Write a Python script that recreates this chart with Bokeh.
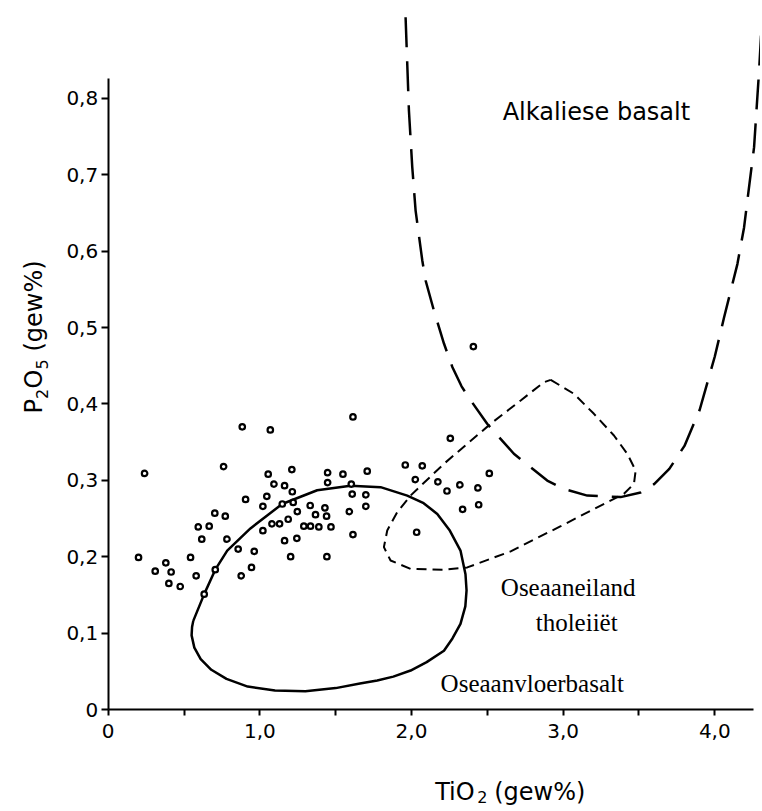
import math
from bokeh.plotting import figure
from bokeh.models import Range1d, FixedTicker
from bokeh.embed import file_html
from bokeh.resources import INLINE
from bokeh.core.properties import value

# ---- data: individual analyses (TiO2, P2O5 in wt%) ----
tio2 = [0.20, 0.24, 0.31, 0.38, 0.415, 0.40, 0.475, 0.543, 0.58, 0.633,
        0.706, 0.594, 0.666, 0.617, 0.703, 0.772, 0.761, 0.783, 0.857, 0.877,
        0.945, 0.963, 0.884, 1.069, 0.906, 1.020, 1.046, 1.055, 1.093, 1.020,
        1.080, 1.130, 1.148, 1.163, 1.214, 1.211, 1.220, 1.187, 1.247, 1.163,
        1.244, 1.203, 1.290, 1.334, 1.332, 1.367, 1.389, 1.429, 1.440, 1.469,
        1.442, 1.447, 1.447, 1.548, 1.603, 1.609, 1.590, 1.614, 1.614, 1.699,
        1.708, 1.699, 2.408, 2.256, 1.959, 2.071, 2.025, 2.174, 2.234, 2.319,
        2.438, 2.513, 2.337, 2.443, 2.034]
p2o5 = [0.199, 0.309, 0.181, 0.192, 0.180, 0.165, 0.161, 0.199, 0.175, 0.151,
        0.183, 0.239, 0.240, 0.223, 0.257, 0.253, 0.318, 0.223, 0.210, 0.175,
        0.186, 0.207, 0.370, 0.366, 0.275, 0.266, 0.279, 0.308, 0.295, 0.234,
        0.243, 0.243, 0.269, 0.293, 0.285, 0.314, 0.271, 0.249, 0.259, 0.221,
        0.224, 0.200, 0.240, 0.240, 0.267, 0.255, 0.239, 0.264, 0.253, 0.239,
        0.200, 0.310, 0.297, 0.308, 0.295, 0.282, 0.259, 0.229, 0.383, 0.281,
        0.312, 0.266, 0.475, 0.355, 0.320, 0.319, 0.301, 0.298, 0.286, 0.294,
        0.290, 0.309, 0.262, 0.268, 0.232]

# ---- field boundaries ----
ocean_floor_x = [0.561, 0.633, 0.706, 0.785, 0.938, 1.147, 1.378, 1.598, 1.796, 1.972,
                 2.080, 2.170, 2.250, 2.323, 2.356, 2.363, 2.355, 2.323, 2.270, 2.214,
                 2.100, 1.994, 1.880, 1.774, 1.660, 1.500, 1.300, 1.100, 0.920, 0.780,
                 0.680, 0.610, 0.568, 0.550, 0.553, 0.561]
ocean_floor_y = [0.116, 0.151, 0.183, 0.208, 0.237, 0.269, 0.287, 0.293, 0.291, 0.280,
                 0.270, 0.256, 0.235, 0.208, 0.177, 0.156, 0.135, 0.112, 0.093, 0.077,
                 0.062, 0.051, 0.043, 0.038, 0.034, 0.028, 0.024, 0.025, 0.030, 0.040,
                 0.052, 0.066, 0.081, 0.097, 0.108, 0.116]

ocean_island_x = [2.918, 3.071, 3.203, 3.335, 3.423, 3.478, 3.467, 3.401, 3.335, 2.984,
                  2.654, 2.368, 2.214, 1.994, 1.862, 1.818, 1.840, 1.906, 1.994, 2.214,
                  2.522, 2.720, 2.873, 2.918]
ocean_island_y = [0.4315, 0.4132, 0.3870, 0.3586, 0.3347, 0.3128, 0.2954, 0.2823, 0.2758, 0.2400,
                  0.2070, 0.1860, 0.1828, 0.1841, 0.1950, 0.2125, 0.2343, 0.2583, 0.2801, 0.3216,
                  0.3740, 0.4045, 0.4284, 0.4315]

alkali_x = [1.961, 1.983, 2.005, 2.027, 2.071, 2.093, 2.148, 2.214, 2.270, 2.330,
            2.389, 2.499, 2.675, 2.895, 3.000, 3.159, 3.379, 3.511, 3.600, 3.700,
            3.800, 3.900, 4.000, 4.061, 4.149, 4.193, 4.226, 4.259, 4.292, 4.310]
alkali_y = [0.906, 0.784, 0.710, 0.653, 0.588, 0.5615, 0.522, 0.479, 0.448, 0.423,
            0.405, 0.374, 0.3347, 0.2997, 0.289, 0.280, 0.278, 0.284, 0.295, 0.315,
            0.345, 0.392, 0.462, 0.513, 0.583, 0.631, 0.684, 0.736, 0.836, 0.900]

# ---- field names ----
sans_names = ["Alkaliese basalt"]
sans_name_x = [2.601]
sans_name_y = [0.782]
serif_names = ["Oseaaneiland", "tholeiiët", "Oseaanvloerbasalt"]
serif_name_x = [2.589, 2.819, 2.192]
serif_name_y = [0.160, 0.114, 0.034]

# ---- ticks ----
x_ticks = [0, 1, 2, 3, 4]
x_minor_ticks = [0.5, 1.5, 2.5, 3.5]
x_tick_labels = ["0", "1,0", "2,0", "3,0", "4,0"]
y_ticks = [0, 0.1, 0.2, 0.3, 0.4, 0.5, 0.6, 0.7, 0.8]
y_tick_labels = ["0", "0,1", "0,2", "0,3", "0,4", "0,5", "0,6", "0,7", "0,8"]

# ---- canvas geometry (pixels) ----
W, H = 760, 809
X0_PX, Y0_PX = 107.7, 709.0      # where the origin sits inside the canvas
PX_PER_X, PX_PER_Y = 151.65, 764.0

x_start = -X0_PX / PX_PER_X
x_end = (W - X0_PX) / PX_PER_X
y_start = -(H - Y0_PX) / PX_PER_Y
y_end = Y0_PX / PX_PER_Y

def dx(px):   # horizontal pixel offset from origin -> data
    return px / PX_PER_X

def dy(px):   # vertical pixel offset (upwards) from origin -> data
    return px / PX_PER_Y

p = figure(width=W, height=H,
           x_range=Range1d(x_start, x_end), y_range=Range1d(y_start, y_end),
           output_backend="svg", toolbar_location=None,
           min_border=0, min_border_left=0, min_border_right=0,
           min_border_top=0, min_border_bottom=0)
p.grid.visible = False
p.outline_line_color = None
p.background_fill_color = "white"
p.border_fill_color = "white"

xa = p.xaxis[0]
ya = p.yaxis[0]
xa.fixed_location = 0
ya.fixed_location = 0
xa.ticker = FixedTicker(ticks=x_ticks, minor_ticks=x_minor_ticks)
ya.ticker = FixedTicker(ticks=y_ticks, minor_ticks=[])
xa.major_label_overrides = dict(zip(x_ticks, x_tick_labels))
ya.major_label_overrides = dict(zip(y_ticks, y_tick_labels))
xa.bounds = (0, 4.256)
ya.bounds = (0, 0.826)
for ax in (xa, ya):
    ax.axis_line_width = 2
    ax.axis_line_color = "black"
    ax.major_tick_line_width = 2
    ax.minor_tick_line_width = 2
    ax.major_tick_line_color = "black"
    ax.minor_tick_line_color = "black"
    ax.major_tick_in = 0
    ax.minor_tick_in = 0
    ax.major_label_text_font = "DejaVu Sans"
    ax.major_label_text_font_size = "20px"
    ax.major_label_text_color = "black"
xa.major_tick_out = 6
xa.minor_tick_out = 6
xa.major_label_standoff = 8
ya.major_tick_out = 7
ya.minor_tick_out = 0
ya.major_label_standoff = 3

p.line(alkali_x, alkali_y, line_color="black", line_width=2.5, line_dash="30 14")
p.line(ocean_island_x, ocean_island_y, line_color="black", line_width=2, line_dash="10 6")
p.line(ocean_floor_x, ocean_floor_y, line_color="black", line_width=2.5,
       line_join="round")

p.scatter(tio2, p2o5, marker="circle", size=5.5, fill_color="white",
          line_color="black", line_width=2.2)

p.text(x=sans_name_x, y=sans_name_y, text=sans_names,
       text_font=value("DejaVu Sans"), text_font_size="24px",
       text_baseline="alphabetic", text_align="left", text_color="black")
p.text(x=serif_name_x, y=serif_name_y, text=serif_names,
       text_font=value("Liberation Serif"), text_font_size="25px",
       text_baseline="alphabetic", text_align="left", text_color="black")

def lab(text, px_x, px_y, size, angle=0.0):
    p.text(x=[dx(px_x)], y=[dy(px_y)], text=[text], angle=angle,
           text_font=value("DejaVu Sans"), text_font_size=size,
           text_baseline="alphabetic", text_align="left", text_color="black")

# y-axis title  P2O5 (gew%)  (reads upwards)
r = math.pi / 2
lab("P", -74, 296, "24px", r)
lab("2", -66, 310.5, "16px", r)
lab("O", -74, 321, "24px", r)
lab("5", -66, 340, "16px", r)
lab("(gew%)", -74, 358, "24px", r)

# x-axis title  TiO2 (gew%)
lab("TiO", 327, -82, "24px")
lab("2", 369, -87, "16px")
lab("(gew%)", 386, -82, "24px")

open("out.html", "w").write(file_html(p, INLINE))
